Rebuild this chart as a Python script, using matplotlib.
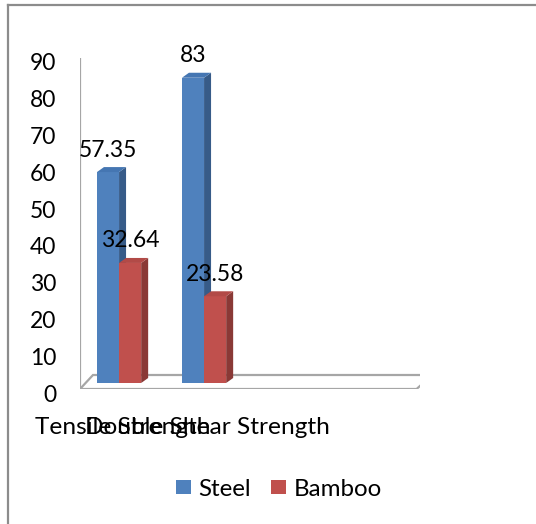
import matplotlib
matplotlib.use("Agg")
import matplotlib.pyplot as plt
from matplotlib.patches import Polygon, Rectangle, Patch
from matplotlib.lines import Line2D
from matplotlib.transforms import ScaledTranslation

plt.rcParams['font.family'] = ['Lato', 'DejaVu Sans']

categories = ["Tensile Strength", "Double Shear Strength"]
steel = [57.35, 83]
bamboo = [32.64, 23.58]
series_names = ["Steel", "Bamboo"]
yticks = [0, 10, 20, 30, 40, 50, 60, 70, 80, 90]

FS = 16.5
W, H = 536, 524
fig = plt.figure(figsize=(W / 100, H / 100), dpi=100)
ax = fig.add_axes([80 / W, (H - 389) / H, 340 / W, 331 / H])
ax.set_xlim(0, 4)
ax.set_ylim(0, 90)
for s in ax.spines.values():
    s.set_visible(False)
ax.set_facecolor('none')

# pixel -> data unit scales
sx = 4 / 340.0
sy = 90 / 331.0

# value axis line
ax.plot([0, 0], [0, 90], color='#a6a6a6', lw=1.6, solid_capstyle='butt', zorder=1)

# floor
fdx, fdy = 13 * sx, 14 * sy
floor = Polygon([(0, 0), (3.96, 0), (3.96 + fdx + 0.03, fdy), (fdx, fdy)],
                closed=True, facecolor='white', edgecolor='#a6a6a6', lw=1.6, zorder=1)
ax.add_patch(floor)

# bars
mdx, mdy = 6.5 * sx, 6 * sy      # mid-plane offset
bdx, bdy = 7 * sx, 5 * sy        # bar depth
bw = 0.26
cols = {
    'Steel': ('#4F81BD', '#375B88', '#4576B2'),
    'Bamboo': ('#C0504D', '#8A3936', '#B24A47'),
}

def bar3d(x0, v, name, z):
    front, side, top = cols[name]
    x0 = x0 + mdx
    y0 = mdy
    ax.add_patch(Rectangle((x0, y0), bw, v, facecolor=front, edgecolor='none', zorder=z))
    ax.add_patch(Polygon([(x0 + bw, y0), (x0 + bw + bdx, y0 + bdy),
                          (x0 + bw + bdx, y0 + v + bdy), (x0 + bw, y0 + v)],
                         closed=True, facecolor=side, edgecolor='none', zorder=z))
    ax.add_patch(Polygon([(x0, y0 + v), (x0 + bw, y0 + v),
                          (x0 + bw + bdx, y0 + v + bdy), (x0 + bdx, y0 + v + bdy)],
                         closed=True, facecolor=top, edgecolor='none', zorder=z))

z = 2
for i in range(len(categories)):
    c = i + 0.383
    bar3d(c - bw, steel[i], 'Steel', z); z += 1
    bar3d(c, bamboo[i], 'Bamboo', z); z += 1

for i in range(len(categories)):
    c = i + 0.383
    for x0, v in ((c - bw, steel[i]), (c, bamboo[i])):
        ax.annotate(f"{v:g}", xy=(x0 + mdx + bw / 2, v + mdy), xytext=(0, 22),
                    textcoords='offset pixels', ha='center', va='center',
                    fontsize=FS, color='black', zorder=20)

ax.set_yticks(yticks)
ax.set_yticklabels([str(t) for t in yticks], fontsize=FS)
ax.tick_params(axis='y', length=0, pad=17)
shift = ScaledTranslation(0, -4 / 100, fig.dpi_scale_trans)
for lab in ax.get_yticklabels():
    lab.set_transform(lab.get_transform() + shift)
ax.set_xticks([i + 0.5 for i in range(len(categories))])
ax.set_xticklabels(categories, fontsize=17.6)
ax.tick_params(axis='x', length=0, pad=20)

# legend
handles = [Patch(facecolor=cols[n][0], edgecolor='none', label=n) for n in series_names]
fig.legend(handles=handles, loc='center', bbox_to_anchor=(279 / W, 1 - 489 / H),
           ncol=2, frameon=False, fontsize=17.4, handlelength=0.6, handleheight=0.57,
           handletextpad=0.32, columnspacing=0.85)

# outer frame (partially cropped: only left and top edges visible)
fx = 7.5 / W
fy = 1 - 4.5 / H
fig.add_artist(Line2D([fx, fx], [0, fy], transform=fig.transFigure, color='#8c8c8c', lw=1.6))
fig.add_artist(Line2D([fx, 1], [fy, fy], transform=fig.transFigure, color='#8c8c8c', lw=1.6))

fig.savefig('out.png', dpi=100)
